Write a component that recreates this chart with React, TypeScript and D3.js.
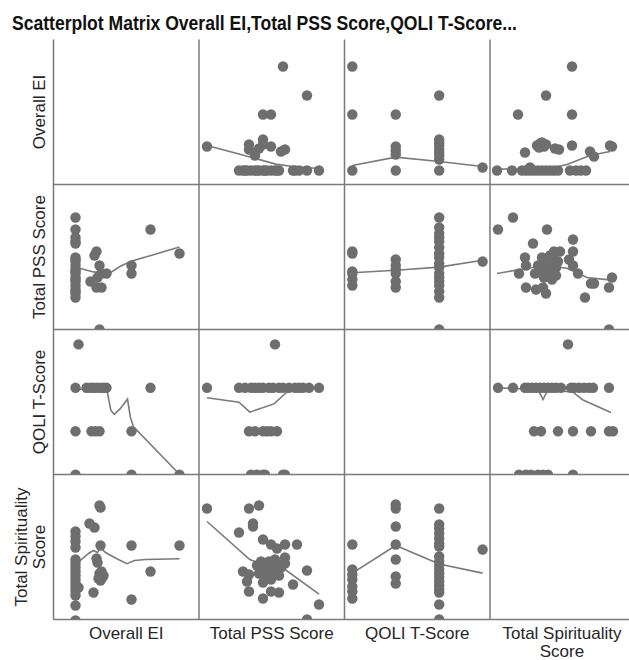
import * as d3 from 'd3'

// variable order: 0 Overall EI, 1 Total PSS Score, 2 QOLI T-Score, 3 Total Spirituality Score
const ROW_LABELS = [['Overall EI'], ['Total PSS Score'], ['QOLI T-Score'], ['Total Spirituality', 'Score']]
const COL_LABELS = [['Overall EI'], ['Total PSS Score'], ['QOLI T-Score'], ['Total Spirituality', 'Score']]
const DOMAINS: [number, number][] = [[89, 161.75], [0, 36.375], [28.2, 61.7], [40, 112.75]]

// pairs [vi, vj] with i < j
const EI_PSS = [
  [100, 10], [100, 11], [100, 11.5], [100, 12], [100, 13], [100, 14], [100, 14.5], [100, 15], [100, 16], [100, 16.5],
  [100, 17], [100, 18], [100, 19], [100, 19.5], [100, 20], [100, 23.5], [100, 24], [100, 25], [100, 27], [100, 30],
  [113, 12.5], [110.5, 12.5], [107.5, 14], [115.5, 16], [113, 16], [112, 18], [111, 15], [109.5, 20.5], [110.5, 21.5],
  [128, 16], [128, 18], [137.5, 27], [152, 21], [112, 2],
]
const EI_QOLI = [
  [100, 30], [128, 30], [152, 30],
  [100, 40], [108, 40], [110, 40], [112, 40], [128, 40],
  [100, 50], [105.5, 50], [107.5, 50], [109, 50], [110.5, 50], [112.5, 50], [114, 50], [115.5, 50], [137.5, 50],
  [101.5, 60],
]
const EI_SPIR = [
  [100, 43.5], [100, 51], [100, 56], [100, 58], [100, 60], [100, 62], [100, 64], [100, 66], [100, 68], [100, 70],
  [100, 72], [100, 74], [100, 80], [100, 83], [100, 85.5], [100, 88], [101.5, 60],
  [152, 81], [137.5, 68], [128, 54], [128, 81],
  [112.5, 63.5], [113.5, 65], [112, 67], [111.5, 64.5], [113, 68], [114, 66],
  [109, 57.5], [111, 72.5], [110.5, 74.5], [112.5, 81], [109.5, 90], [107, 92], [112.5, 100], [112, 101],
]
const PSS_QOLI = [
  [13, 30], [14.5, 30], [16, 30], [16.5, 30], [21, 30], [21.5, 30],
  [12.5, 40], [14, 40], [16, 40], [17, 40], [18, 40], [19.5, 40],
  [2, 50], [10, 50], [11.5, 50], [13, 50], [14, 50], [15, 50], [16, 50], [17.5, 50], [18.5, 50], [20, 50],
  [21, 50], [22.5, 50], [24, 50], [25, 50], [26, 50], [27.5, 50], [30, 50],
  [19, 60],
]
const PSS_SPIR = [
  [2, 99.5], [12.5, 99.5], [15, 101], [10, 87.5], [13.5, 92], [13.5, 90.5], [16, 84], [18, 81.5], [19.5, 79.5],
  [21.5, 81.5], [24.5, 81.5], [21.5, 75], [27, 68.5], [11, 68], [12.5, 66.5], [12, 63], [12.5, 58], [16, 54.5],
  [18, 58], [20, 57.5], [23.5, 61.5], [30, 51.5], [27, 44],
  [15.5, 73], [16.5, 71], [17.5, 69], [18.5, 67.5], [17, 65], [19.5, 72], [20.5, 70], [15, 67], [18, 64],
  [19, 74], [16, 62.5], [20, 66], [17.5, 73], [14.5, 71], [21.5, 72], [16.5, 68],
]
const QOLI_SPIR = [
  [30, 81.5], [30, 69], [30, 66.5], [30, 64], [30, 60.5], [30, 58], [30, 54.5],
  [40, 101.5], [40, 99.5], [40, 90.5], [40, 81.5], [40, 74], [40, 65.5], [40, 62],
  [50, 44], [50, 51.5], [50, 57.5], [50, 59], [50, 61], [50, 63], [50, 65], [50, 67], [50, 69], [50, 71],
  [50, 73], [50, 75.5], [50, 80.5], [50, 82], [50, 84.5], [50, 87], [50, 89.5], [50, 91.5], [50, 99.5],
  [60, 79],
]
const PAIRS = [
  { i: 0, j: 1, data: EI_PSS },
  { i: 0, j: 2, data: EI_QOLI },
  { i: 0, j: 3, data: EI_SPIR },
  { i: 1, j: 2, data: PSS_QOLI },
  { i: 1, j: 3, data: PSS_SPIR },
  { i: 2, j: 3, data: QOLI_SPIR },
]

// loess fit lines, keyed row-col, points are [x value, y value]
const FITS: Record<string, number[][]> = {
  '0-1': [[2, 112.5], [10, 108.2], [19.2, 103.2], [23.4, 102], [30, 101]],
  '0-2': [[30, 102.5], [40, 106.7], [50, 104.5], [60, 102]],
  '0-3': [[43.5, 100.7], [60, 100.8], [72, 101.5], [78.5, 103], [90, 107.5], [100, 109.5]],
  '1-0': [[100, 17.6], [101.5, 17.4], [109, 16.4], [116.5, 15.9], [122.4, 17.8], [128.2, 19.1], [152, 22.6]],
  '1-2': [[30, 16.2], [40, 16.8], [50, 17.6], [60, 19.3]],
  '1-3': [[43.5, 16], [55, 17], [67.5, 18], [78.5, 17.3], [88.5, 15], [99.5, 14.4]],
  '2-0': [[100, 49.5], [108, 50], [115.7, 49.5], [117.7, 44.8], [119.4, 43.9], [122.4, 45.2], [126, 47.4], [127.4, 43.3], [129, 41], [152, 30.1]],
  '2-1': [[2, 47.7], [10, 46.7], [12.7, 44.4], [18.75, 46.3], [21.7, 48.8], [24, 50], [30, 50]],
  '2-3': [[43, 50], [64, 49.6], [66.5, 47.3], [69, 49.6], [81.5, 49], [86.5, 47.2], [100.5, 44.3]],
  '3-0': [[100, 70], [102.4, 73.5], [106.5, 77], [109, 78.5], [111, 77.5], [112.5, 80], [115, 77.5], [120.7, 74.4], [125.7, 71.9], [129.5, 73.5], [135, 74], [152, 74.4]],
  '3-1': [[2, 93], [12.7, 74], [16, 71.4], [21, 69.7], [30, 56.7]],
  '3-2': [[30, 67.2], [40, 81], [50, 71.7], [60, 67.2]],
}

const W = 629
const H = 660
const gx = d3.scaleLinear().domain([0, 4]).range([53.5, 635.5])
const gy = d3.scaleLinear().domain([0, 4]).range([39.5, 619.5])
const CELL_W = gx(1) - gx(0)
const CELL_H = gy(1) - gy(0)
const Y_SHIFT = 8

const DOT = '#6e6e6e'
const GRID = '#7a7a7a'
const FIT = '#7a7a7a'
const TEXT = '#262626'
const FONT = '"Liberation Sans", Arial, sans-serif'

const xScale = (v: number, c: number) =>
  d3.scaleLinear().domain(DOMAINS[v]).range([gx(c), gx(c) + CELL_W])
const yScale = (v: number, r: number) =>
  d3.scaleLinear().domain(DOMAINS[v]).range([gy(r + 1) + Y_SHIFT, gy(r + 1) + Y_SHIFT - CELL_W])

function cellPoints(r: number, c: number) {
  const p = PAIRS.find(d => (d.i === r && d.j === c) || (d.i === c && d.j === r))
  if (!p) return []
  // returns [x, y] = [value of var c, value of var r]
  return p.data.map(d => (p.i === c ? [d[0], d[1]] : [d[1], d[0]]))
}

function Cell({ r, c }: { r: number; c: number }) {
  const x = xScale(c, c)
  const y = yScale(r, r)
  const pts = cellPoints(r, c)
  const fit = FITS[`${r}-${c}`]
  const line = d3.line<number[]>().x(d => x(d[0])).y(d => y(d[1]))
  return (
    <g clipPath={`url(#clip-${r}-${c})`}>
      {fit && <path d={line(fit) ?? ''} fill="none" stroke={FIT} strokeWidth={1.6} />}
      {pts.map((d, k) => (
        <circle key={k} cx={x(d[0])} cy={y(d[1])} r={5.2} fill={DOT} />
      ))}
    </g>
  )
}

export default function App() {
  const idx = d3.range(4)
  return (
    <svg width={W} height={H} style={{ position: 'absolute', left: 0, top: 0, display: 'block', background: '#fff' }}>
      <defs>
        {idx.map(r => idx.map(c => (
          <clipPath key={`${r}-${c}`} id={`clip-${r}-${c}`}>
            <rect x={gx(c)} y={gy(r)} width={CELL_W} height={CELL_H} />
          </clipPath>
        )))}
      </defs>
      <rect width={W} height={H} fill="#fff" />
      <text x={12} y={30} fontFamily={FONT} fontWeight="bold" fontSize={21} fill="#111"
        textLength={505} lengthAdjust="spacingAndGlyphs">
        Scatterplot Matrix Overall EI,Total PSS Score,QOLI T-Score...
      </text>

      {idx.map(r => idx.map(c => (r === c ? null : <Cell key={`${r}-${c}`} r={r} c={c} />)))}

      {/* grid */}
      {idx.map(i => (
        <line key={`v${i}`} x1={gx(i)} x2={gx(i)} y1={gy(0)} y2={gy(4)} stroke={GRID} strokeWidth={1.5} />
      ))}
      {idx.map(i => (
        <line key={`h${i}`} x1={gx(0)} x2={gx(4)} y1={gy(i + 1)} y2={gy(i + 1)} stroke={GRID} strokeWidth={1.5} />
      ))}

      {/* row labels */}
      {ROW_LABELS.map((lines, r) => {
        const cy = (gy(r) + gy(r + 1)) / 2
        return lines.map((t, k) => {
          const bx = 45 - (lines.length - 1 - k) * 18
          return (
            <text key={`r${r}-${k}`} transform={`translate(${bx},${cy}) rotate(-90)`} textAnchor="middle"
              fontFamily={FONT} fontSize={17} fill={TEXT}>
              {t}
            </text>
          )
        })
      })}

      {/* column labels */}
      {COL_LABELS.map((lines, c) => {
        const cx = (gx(c) + Math.min(gx(c + 1), W)) / 2
        return lines.map((t, k) => (
          <text key={`c${c}-${k}`} x={c === 3 ? 562 : cx} y={639 + k * 18} textAnchor="middle"
            fontFamily={FONT} fontSize={17} fill={TEXT}>
            {t}
          </text>
        ))
      })}
    </svg>
  )
}
